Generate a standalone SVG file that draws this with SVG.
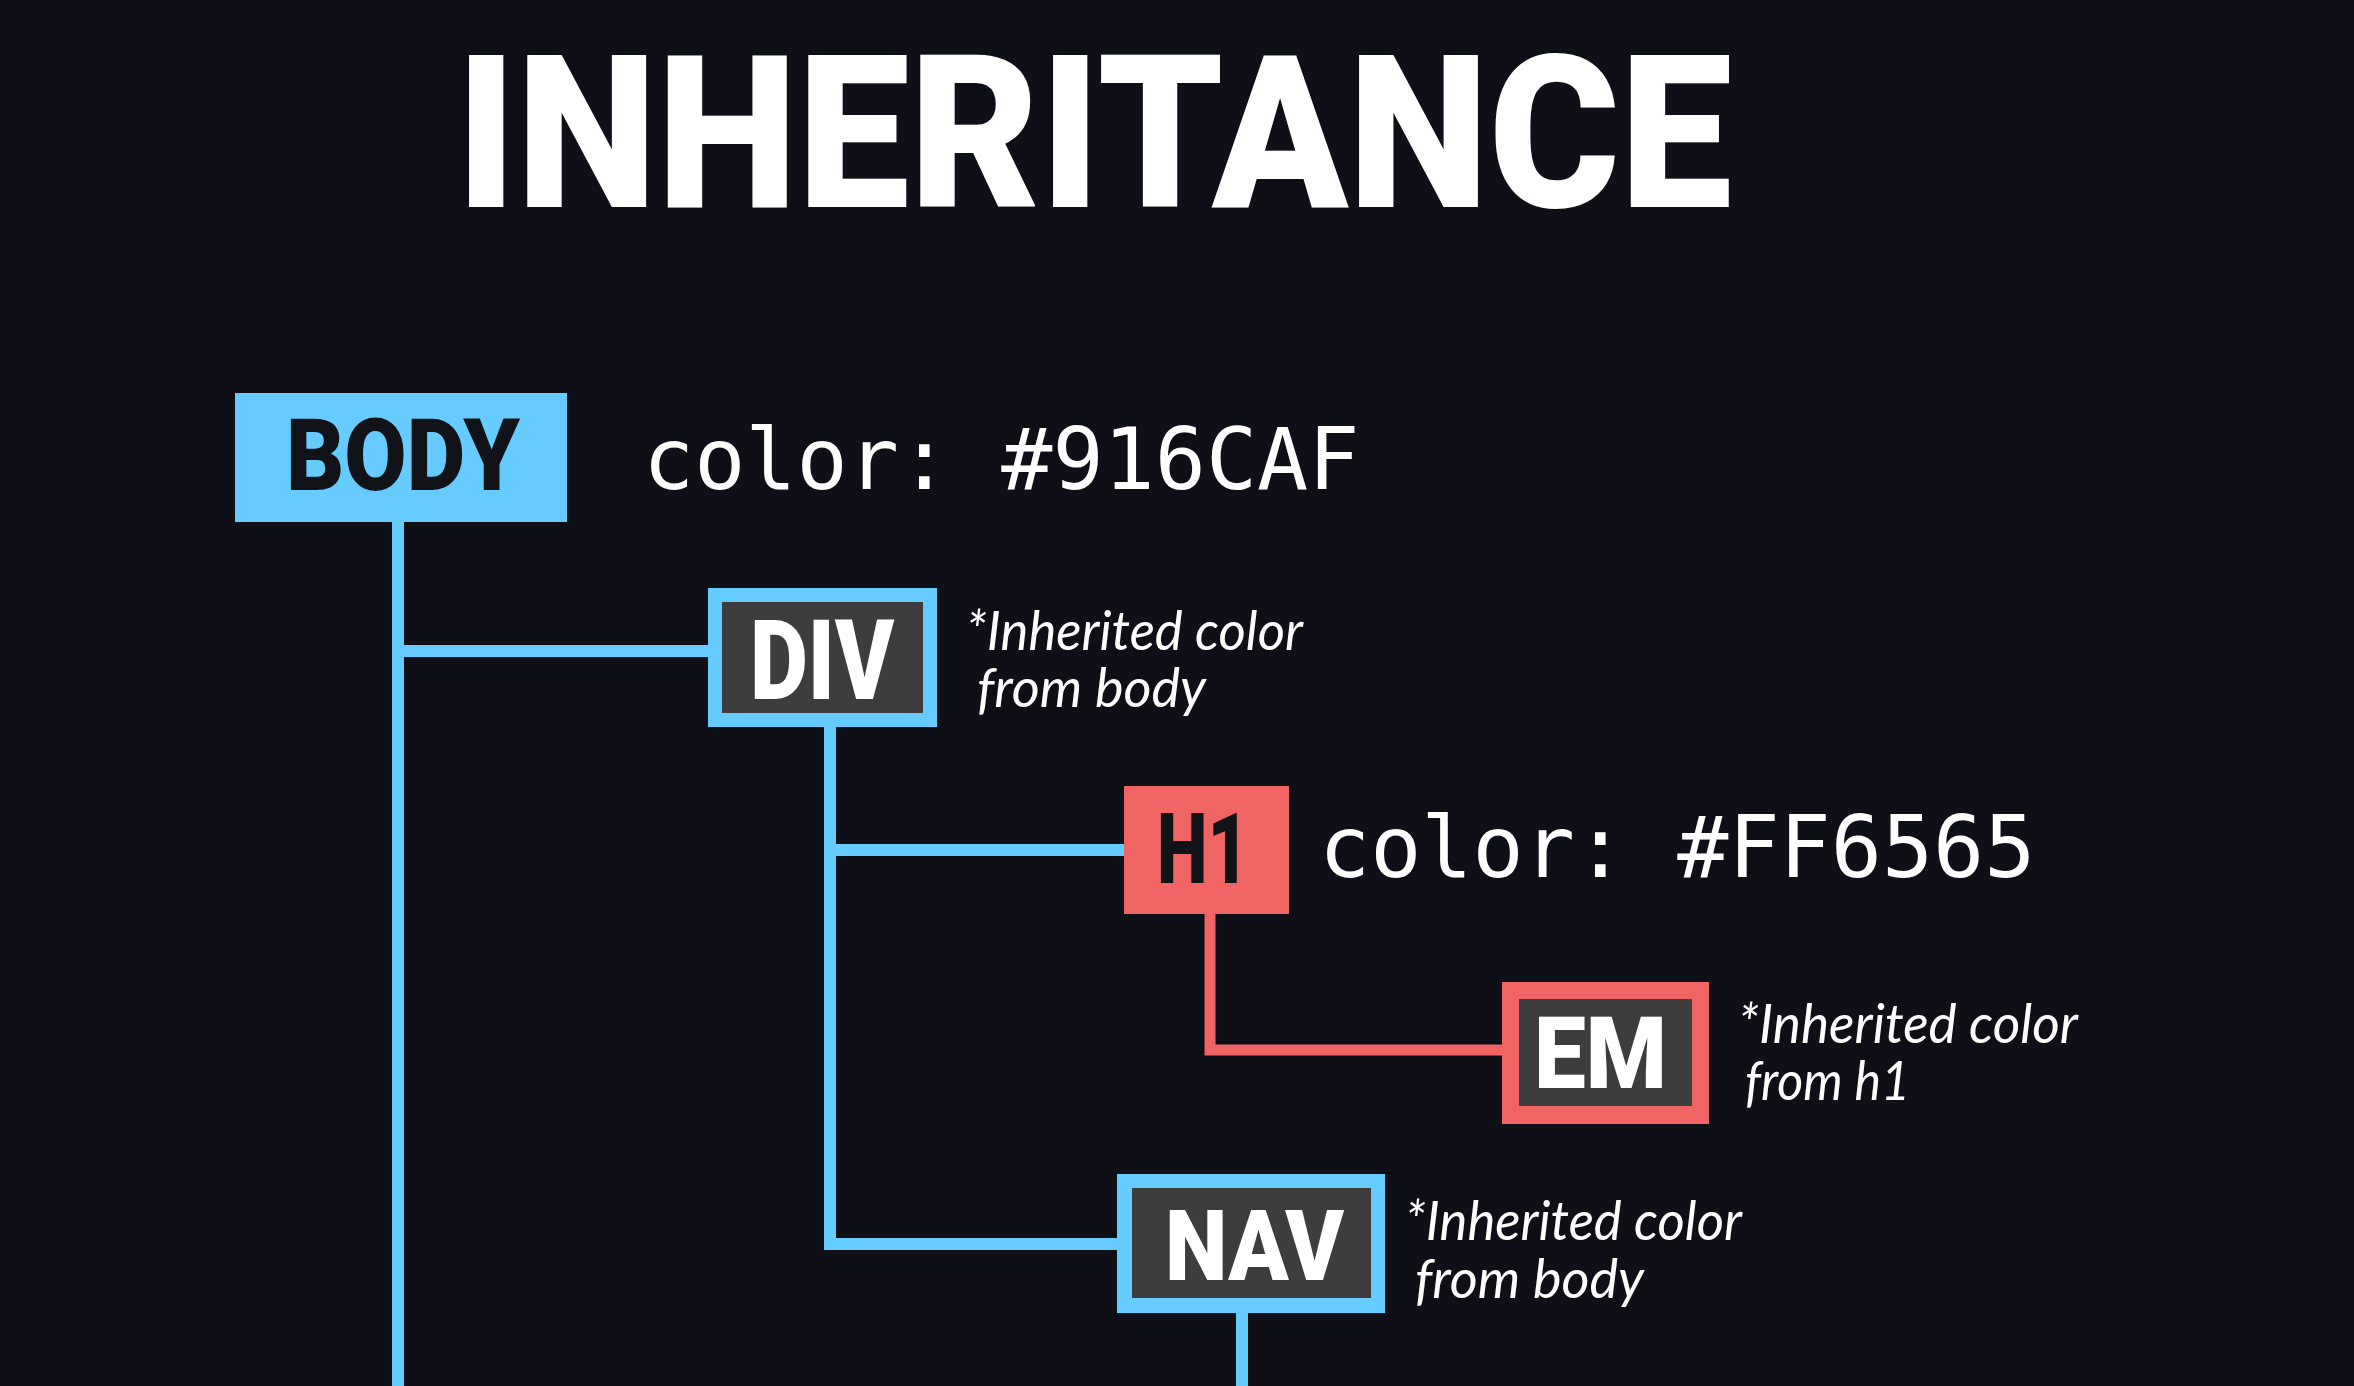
<svg xmlns="http://www.w3.org/2000/svg" width="2354" height="1386" viewBox="0 0 2354 1386">
  <style>
    .bg { fill: #0f0f17; }
    .title { font-family: Roboto, Inter, "DejaVu Sans", sans-serif; font-weight: 900; fill: #ffffff; }
    .tag { font-family: Roboto, Inter, "DejaVu Sans", sans-serif; font-weight: 900; }
    .tag-dark { fill: #121219; }
    .tag-light { fill: #ffffff; }
    .code { font-family: "DejaVu Sans Mono", "Liberation Mono", monospace; font-size: 85px; fill: #ffffff; }
    .note { font-family: Lato, "Open Sans", "Liberation Sans", sans-serif; font-style: italic; font-size: 54px; fill: #ffffff; }
    .blue-fill { fill: #66ccff; }
    .red-fill { fill: #f06464; }
    .inner { fill: #3d3d3d; }
    .wire-blue { fill: none; stroke: #66ccff; stroke-width: 12; stroke-linejoin: miter; stroke-linecap: butt; }
    .wire-red { fill: none; stroke: #f06464; stroke-width: 11; stroke-linejoin: miter; stroke-linecap: butt; }
  </style>

  <rect class="bg" x="0" y="0" width="2354" height="1386"/>

  <!-- heading -->
  <text class="title" x="456" y="207" font-size="214" textLength="1276" lengthAdjust="spacingAndGlyphs">INHERITANCE</text>

  <!-- tree connectors -->
  <g id="connectors">
    <path class="wire-blue" d="M398 520 V1386"/>
    <path class="wire-blue" d="M398 651 H710"/>
    <path class="wire-blue" d="M830 725 V1244 H1119"/>
    <path class="wire-blue" d="M830 850 H1126"/>
    <path class="wire-red" d="M1210 912 V1050 H1504"/>
    <path class="wire-blue" d="M1242 1311 V1386"/>
  </g>

  <!-- body: solid blue tag -->
  <g id="node-body">
    <rect class="blue-fill" x="235" y="393" width="332" height="129"/>
    <text class="tag tag-dark" x="286" y="490" font-size="100" textLength="234" lengthAdjust="spacingAndGlyphs">BODY</text>
    <text class="code" x="643" y="489">color: #916CAF</text>
  </g>

  <!-- div: outlined blue tag -->
  <g id="node-div">
    <rect class="blue-fill" x="708" y="588" width="229" height="139"/>
    <rect class="inner" x="722" y="602" width="201" height="111"/>
    <text class="tag tag-light" x="750" y="699" font-size="112" textLength="144" lengthAdjust="spacingAndGlyphs">DIV</text>
    <text class="note"><tspan x="966" y="650" textLength="337" lengthAdjust="spacingAndGlyphs">*Inherited color</tspan><tspan x="977" y="707" textLength="229" lengthAdjust="spacingAndGlyphs">from body</tspan></text>
  </g>

  <!-- h1: solid red tag -->
  <g id="node-h1">
    <rect class="red-fill" x="1124" y="786" width="165" height="128"/>
    <text class="tag tag-dark" x="1157" y="883" font-size="98" textLength="92" lengthAdjust="spacingAndGlyphs">H1</text>
    <text class="code" x="1319" y="877">color: #FF6565</text>
  </g>

  <!-- em: outlined red tag -->
  <g id="node-em">
    <rect class="red-fill" x="1502" y="982" width="207" height="142"/>
    <rect class="inner" x="1519" y="999" width="173" height="107"/>
    <text class="tag tag-light" x="1534" y="1088" font-size="100" textLength="133" lengthAdjust="spacingAndGlyphs">EM</text>
    <text class="note"><tspan x="1738" y="1043" textLength="340" lengthAdjust="spacingAndGlyphs">*Inherited color</tspan><tspan x="1745" y="1100" textLength="165" lengthAdjust="spacingAndGlyphs">from h1</tspan></text>
  </g>

  <!-- nav: outlined blue tag -->
  <g id="node-nav">
    <rect class="blue-fill" x="1117" y="1174" width="268" height="139"/>
    <rect class="inner" x="1132" y="1188" width="239" height="110"/>
    <text class="tag tag-light" x="1165" y="1280" font-size="98" textLength="179" lengthAdjust="spacingAndGlyphs">NAV</text>
    <text class="note"><tspan x="1405" y="1240" textLength="337" lengthAdjust="spacingAndGlyphs">*Inherited color</tspan><tspan x="1415" y="1298" textLength="229" lengthAdjust="spacingAndGlyphs">from body</tspan></text>
  </g>
</svg>
